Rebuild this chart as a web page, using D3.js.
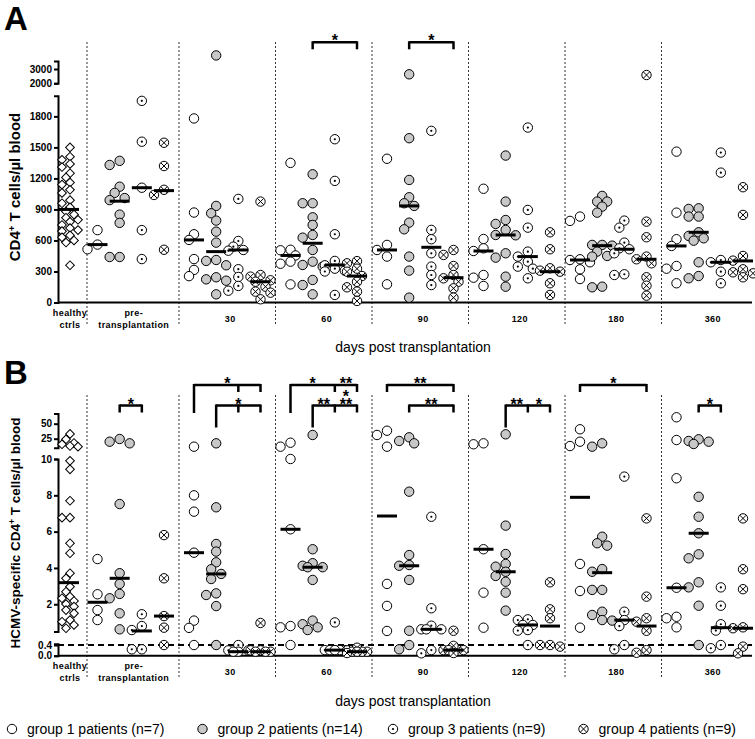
<!DOCTYPE html>
<html>
<head>
<meta charset="utf-8">
<script src="https://cdn.jsdelivr.net/npm/d3@7"></script>
<style>
  body { margin: 0; background: #fff; }
  svg text { font-family: "Liberation Sans", Arial, sans-serif; fill: #000; }
</style>
</head>
<body>
<div id="chart"></div>
<script>
// ---- data ----
const days = ["pre-transplantation", "30", "60", "90", "120", "180", "360"];
const groupNames = ["group 1 patients (n=7)", "group 2 patients (n=14)", "group 3 patients (n=9)", "group 4 patients (n=9)"];

// panel A : CD4+ T cells/µl blood, one array per time point
const cd4Healthy = [1500,1410,1380,1340,1310,1250,1210,1160,1140,1090,1060,990,960,920,880,850,820,800,780,750,720,700,690,650,630,600,580,360];
const cd4HealthyMedian = 900;
const cd4G1 = [[700,560,515],[1780,870,660,605,420,315,255],[1350,510,505,455,395,375,175],[1390,557,508,444,176],[1100,614,524,498,266,240,160],[831,789,418,411,389,321,227],[1459,869,612,547,353,327,186]];
const cd4G2 = [[1370,1330,1120,1060,1010,990,850,770,440,440],[3950,934,863,792,685,579,411,402,360,244,224,211,79],[1240,960,960,824,750,653,627,508,395,363,347,218,169,79],[2629,1589,1185,1018,960,934,772,708,444,308,47],[1421,976,798,760,702,653,650,476,434,250,153],[1031,976,976,927,869,557,557,550,492,450,444,153,147],[911,905,831,831,679,644,621,598,389,256,234]];
const cd4G3 = [[1950,1555,1110,700,420],[1002,595,540,508,501,322,247,160,114],[1579,1176,660,402,360,327,308,300,73],[1660,702,612,476,347,266,169],[1692,895,724,492,444,395,347,327,234],[792,724,579,524,515,476,266,273],[1450,1256,411,389,298,186]];
const cd4G4 = [[1545,1320,1090,1040,510],[976,266,250,215,201,153,105,95,31],[400,379,327,298,256,200,147,105,15],[508,460,353,266,234,201,137,47],[679,515,331,308,298,186,73],[2580,782,631,444,418,379,244,163,66],[1115,847,450,405,321,292,282,244]];
const cd4Medians = [
  [560,605,455,508,498,411,547],
  [980,492,573,934,653,550,679],
  [1110,508,363,534,444,515,389],
  [1082,201,256,240,298,418,402]
];

// panel B : HCMV-specific CD4+ T cells/µl blood
const cmvHealthy = [33,24,17.8,15.7,12.8,11.7,9.9,9.43,7.7,6.77,6.77,5.36,4.81,3.71,3.43,2.97,2.69,2.42,2.33,2.18,2.01,1.87,1.68,1.5,1.13,1.04,0.86,0.68];
const cmvHealthyMedian = 3.19;
const cmvG1 = [[4.49,2.55,1.68,1.13],[11.7,8.0,7.1,4.84,1.1,0.7,0.4],[18.3,11.7,10.0,6.13,0.8,0.73,0.4],[38.3,31.2,11.7,3.12,1.91,0.53],[17.3,15.7,5.03,2.64,0.71],[40.7,20,12.8,4.22,2.73,0.71],[60.7,22.8,8.94,2.91,1.31,1.23,0.73]];
const cmvG2 = [[24.5,20,17.3,7.52,3.71,3.12,2.57,2.33,1.5,0.62],[17.3,7.34,5.32,4.9,4.31,3.93,3.67,3.39,2.6,2.51,1.9,0.4],[31.2,5.03,4.26,4.12,4.04,4.04,3.34,1.1,0.9,0.73,0.58],[27.3,21.2,17.3,8.2,4.71,4.16,4.12,3.34,0.54,0.4,0.24],[32.3,6.33,4.77,4.22,4.07,3.79,3.56,3.24,2.64,1.65],[17.3,11.7,5.72,5.36,5.23,3.94,3.79,2.79,2.79,1.59,1.41,1.13,1.1],[24,21.2,20,16.2,7.92,6.82,5.91,4.75,4.53,3.21,2.93,1.92,0.4]];
const cmvG3 = [[1.45,0.8,0.58,0.24,0.24],[0.4,0.2,0.2,0.15,0.15],[1.0,0.21,0.21,0.21,0.21,0.21,0.21],[6.82,1.78,0.82,0.62,0.62,0.62,0.21,0.09],[1.17,1.13,0.86,0.86,0.58,0.55,0.4],[9.03,1.59,1.13,0.8,0.4,0.24],[2.93,1.92,0.9,0.55,0.4,0.28]];
const cmvG4 = [[5.81,3.43,1.35,0.71,0.4],[0.97,0.2,0.2,0.15,0.15,0.15],[0.3,0.2,0.15,0.15,0.15,0.15,0.1],[0.54,0.37,0.21,0.21,0.21,0.1],[3.21,1.72,1.23,0.4,0.34,0.4],[6.73,2.42,1.23,1.04,0.54,0.21,0.11],[6.73,3.93,2.83,0.73,0.68,0.34,0.09]];
const cmvMedians = [
  [2.11,4.84,6.13,6.86,5.03,7.89,2.91],
  [3.43,3.67,4.04,4.12,3.79,3.74,5.91],
  [0.53,0.15,0.21,0.62,0.86,1.13,0.71],
  [1.35,0.15,0.15,0.21,0.8,0.8,0.68]
];

// significance brackets: groups are 0..3, row 0 = upper, row 1 = lower
const sigA = [
  {day: "60", row: 0, groups: [1, 3], long: false, labels: [{from: 1, to: 3, text: "*"}]},
  {day: "90", row: 0, groups: [1, 3], long: false, labels: [{from: 1, to: 3, text: "*"}]}
];
const sigB = [
  {day: "pre-transplantation", row: 1, groups: [1, 2], long: false, labels: [{from: 1, to: 2, text: "*"}]},
  {day: "30", row: 0, groups: [0, 2, 3], long: true, labels: [{from: 0, to: 3, text: "*"}]},
  {day: "30", row: 1, groups: [1, 2, 3], long: true, labels: [{from: 1, to: 3, text: "*"}]},
  {day: "60", row: 0, groups: [0, 2, 3], long: true, labels: [{from: 0, to: 2, text: "*"}, {from: 2, to: 3, text: "**"}]},
  {day: "60", row: 1, groups: [1, 2, 3], long: true, labels: [{from: 1, to: 2, text: "**"}, {from: 2, to: 3, text: "**"}, {from: 2, to: 3, text: "*", lift: 8}]},
  {day: "90", row: 0, groups: [0, 3], long: false, labels: [{from: 0, to: 3, text: "**"}]},
  {day: "90", row: 1, groups: [1, 3], long: false, labels: [{from: 1, to: 3, text: "**"}]},
  {day: "120", row: 1, groups: [1, 2, 3], long: true, labels: [{from: 1, to: 2, text: "**"}, {from: 2, to: 3, text: "*"}]},
  {day: "180", row: 0, groups: [0, 3], long: false, labels: [{from: 0, to: 3, text: "*"}]},
  {day: "360", row: 1, groups: [1, 2], long: false, labels: [{from: 1, to: 2, text: "*"}]}
];

// ---- layout ----
const W = 755, H = 739;
const axisX = 58, rightX = 752, healthyX = 69, healthySep = 87;
const R = 4.7;
const fills = ["#fff", "#c8c8c8", "#fff", "#fff"];

const svg = d3.select("#chart").append("svg").attr("width", W).attr("height", H);

const x = d3.scaleBand().domain(days).range([82.5, 758]);
const xg = d3.scalePoint().domain([0, 1, 2, 3]).range([15, 81.5]);
const gx = (day, g) => x(day) + xg(g);

// piecewise (broken) y axis built from several linear scales
function brokenScale(segs) {
  const scales = segs.map(s => d3.scaleLinear().domain(s.domain).range(s.range));
  const f = v => {
    for (let i = 0; i < segs.length; i++) {
      if (v <= segs[i].upTo) return scales[i](v);
    }
    return scales[scales.length - 1](v);
  };
  f.scales = scales;
  return f;
}

// simple swarm: spread points sideways so they do not pile up
function swarm(values, y, step, minDist, maxOff) {
  const pts = values.map(v => ({v: v, y: y(v)})).sort((a, b) => a.y - b.y);
  const placed = [];
  pts.forEach(p => {
    p.dx = 0;
    let best = null, bestScore = Infinity;
    for (let k = 0; k < 30; k++) {
      const off = k === 0 ? 0 : (k % 2 ? -1 : 1) * Math.ceil(k / 2) * step;
      if (Math.abs(off) > maxOff) break;
      const dmin = d3.min(placed, q => Math.hypot(q.dx - off, q.y - p.y));
      if (dmin === undefined || dmin >= minDist) { best = off; break; }
      const score = -dmin;
      if (score < bestScore) { bestScore = score; p.dx = off; }
    }
    if (best !== null) p.dx = best;
    placed.push(p);
  });
  return pts;
}

function drawMarker(g, type, cx, cy) {
  if (type === "diamond") {
    g.append("path")
      .attr("d", d3.symbol().type(d3.symbolSquare).size(38)())
      .attr("transform", `translate(${cx},${cy}) rotate(45)`)
      .attr("fill", "#fff").attr("stroke", "#000").attr("stroke-width", 1);
    return;
  }
  g.append("circle").attr("cx", cx).attr("cy", cy).attr("r", R)
    .attr("fill", fills[type]).attr("stroke", "#000").attr("stroke-width", 1);
  if (type === 2) {
    g.append("circle").attr("cx", cx).attr("cy", cy).attr("r", 1.1).attr("fill", "#000");
  } else if (type === 3) {
    const a = R * 0.68;
    g.append("path")
      .attr("d", `M${cx - a},${cy - a}L${cx + a},${cy + a}M${cx - a},${cy + a}L${cx + a},${cy - a}`)
      .attr("stroke", "#000").attr("stroke-width", 1);
  }
}

function drawPanel(p) {
  const g = svg.append("g");

  // separators
  const seps = [healthySep].concat(days.slice(1).map(d => x(d)));
  g.selectAll(".sep").data(seps).enter().append("line")
    .attr("x1", d => d).attr("x2", d => d)
    .attr("y1", p.sepTop).attr("y2", p.sepBottom)
    .attr("stroke", "#333").attr("stroke-width", 1).attr("stroke-dasharray", "2,2");

  // detection limit
  if (p.limit !== undefined) {
    g.append("line").attr("x1", axisX).attr("x2", rightX)
      .attr("y1", p.y(p.limit)).attr("y2", p.y(p.limit))
      .attr("stroke", "#000").attr("stroke-width", 2).attr("stroke-dasharray", "6,4");
  }

  // x baseline
  g.append("line").attr("x1", axisX).attr("x2", rightX)
    .attr("y1", p.y(0)).attr("y2", p.y(0))
    .attr("stroke", "#000").attr("stroke-width", 2);

  // y axis segments
  p.y.scales.forEach((s, i) => {
    const ax = g.append("g").attr("transform", `translate(${axisX},0)`)
      .call(d3.axisLeft(s).tickValues(p.ticks[i]).tickSize(4).tickSizeOuter(4).tickPadding(2).tickFormat(p.fmt));
    ax.select(".domain").attr("stroke-width", 2);
    ax.selectAll(".tick line").attr("stroke-width", 2);
    ax.selectAll("text").attr("font-size", 10).attr("font-weight", "bold")
      .attr("font-family", "Liberation Sans, Arial, sans-serif");
  });

  // healthy controls
  const hp = swarm(p.healthy, p.y, 4, 5.5, 9);
  hp.forEach(d => drawMarker(g, "diamond", healthyX + 1 + d.dx, d.y));
  g.append("line").attr("x1", healthyX - 11).attr("x2", healthyX + 10)
    .attr("y1", p.y(p.healthyMedian)).attr("y2", p.y(p.healthyMedian))
    .attr("stroke", "#000").attr("stroke-width", 3);

  // patient groups
  p.groups.forEach((series, gi) => {
    days.forEach((day, di) => {
      const cx = gx(day, gi);
      swarm(series[di], p.y, 5, 7.5, 10).forEach(d => drawMarker(g, gi, cx + d.dx, d.y));
    });
  });
  p.groups.forEach((series, gi) => {
    days.forEach((day, di) => {
      const cx = gx(day, gi), my = p.y(p.medians[gi][di]);
      g.append("line").attr("x1", cx - 10).attr("x2", cx + 10)
        .attr("y1", my).attr("y2", my).attr("stroke", "#000").attr("stroke-width", 3);
    });
  });

  // significance brackets
  p.sig.forEach(s => {
    const top = p.rowTop[s.row];
    const xs = s.groups.map(k => gx(s.day, k));
    g.append("line").attr("x1", xs[0]).attr("x2", xs[xs.length - 1])
      .attr("y1", top).attr("y2", top).attr("stroke", "#000").attr("stroke-width", 2.5);
    xs.forEach((xx, k) => {
      const len = (k === 0 && s.long) ? p.longLeg[s.row] : 7;
      g.append("line").attr("x1", xx).attr("x2", xx)
        .attr("y1", top - 1).attr("y2", top + len).attr("stroke", "#000").attr("stroke-width", 2.5);
    });
    s.labels.forEach(l => {
      g.append("text").attr("x", (gx(s.day, l.from) + gx(s.day, l.to)) / 2).attr("y", top + 4 - (l.lift || 0))
        .attr("text-anchor", "middle").attr("font-size", 16).attr("font-weight", "bold")
        .text(l.text);
    });
  });

  // category labels
  const lab = g.append("g").attr("font-size", 9).attr("font-weight", "bold");
  const twoLine = (cx, a, b) => {
    lab.append("text").attr("x", cx).attr("y", p.labelY - 3).attr("text-anchor", "middle")
      .attr("letter-spacing", 0.4).text(a);
    lab.append("text").attr("x", cx).attr("y", p.labelY + 9).attr("text-anchor", "middle")
      .attr("letter-spacing", 0.4).text(b);
  };
  twoLine(healthyX + 1, "healthy", "ctrls");
  twoLine(x(days[0]) + x.bandwidth() / 2 + 3, "pre-", "transplantation");
  days.slice(1).forEach(d => {
    lab.append("text").attr("x", x(d) + x.bandwidth() / 2 + 3).attr("y", p.labelY + 3)
      .attr("text-anchor", "middle").attr("letter-spacing", 0.4).text(d);
  });

  g.append("text").attr("x", 413).attr("y", p.xTitleY).attr("text-anchor", "middle")
    .attr("font-size", 14).text("days post transplantation");

  // y title
  const yt = g.append("text").attr("transform", `translate(20,${p.yTitleMid}) rotate(-90)`)
    .attr("text-anchor", "middle").attr("font-size", p.yTitleSize).attr("font-weight", "bold");
  yt.append("tspan").text(p.yTitle + "CD4");
  yt.append("tspan").attr("dy", -5).attr("font-size", p.yTitleSize * 0.65).text("+");
  yt.append("tspan").attr("dy", 5).text(" T cells/µl blood");

  // panel letter
  g.append("text").attr("x", 4).attr("y", p.letterY).attr("font-size", 33).attr("font-weight", "bold").text(p.letter);
}

const yA = brokenScale([
  {domain: [0, 2000], range: [302.5, 95.7], upTo: 2000},
  {domain: [2000, 3560], range: [83.3, 61], upTo: Infinity}
]);
const yB = brokenScale([
  {domain: [0, 0.45], range: [655.7, 643.7], upTo: 0.42},
  {domain: [0.5, 10], range: [631.5, 459], upTo: 10},
  {domain: [10, 67], range: [447.7, 413.5], upTo: Infinity}
]);

drawPanel({
  y: yA, ticks: [[0, 300, 600, 900, 1200, 1500, 1800], [2000, 3000]], fmt: d3.format("d"),
  healthy: cd4Healthy, healthyMedian: cd4HealthyMedian,
  groups: [cd4G1, cd4G2, cd4G3, cd4G4], medians: cd4Medians,
  sig: sigA, rowTop: [42.3, 42.3], longLeg: [7, 7],
  sepTop: 42, sepBottom: 324, labelY: 319, xTitleY: 352,
  yTitle: "", yTitleMid: 187, yTitleSize: 15, letter: "A", letterY: 30
});

drawPanel({
  y: yB, ticks: [[0, 0.4], [2, 4, 6, 8, 10], [25, 50]], fmt: d => d < 1 ? d3.format(".1f")(d) : d3.format("d")(d),
  limit: 0.4,
  healthy: cmvHealthy, healthyMedian: cmvHealthyMedian,
  groups: [cmvG1, cmvG2, cmvG3, cmvG4], medians: cmvMedians,
  sig: sigB, rowTop: [385, 405.5], longLeg: [28, 22],
  sepTop: 395, sepBottom: 677, labelY: 672, xTitleY: 706,
  yTitle: "HCMV-specific ", yTitleMid: 533, yTitleSize: 13.5, letter: "B", letterY: 384
});

// legend
const leg = svg.append("g");
groupNames.forEach((name, i) => {
  const lx = 12 + i * 190.5;
  drawMarker(leg, i, lx, 729);
  leg.append("text").attr("x", lx + 15).attr("y", 734).attr("font-size", 14).text(name);
});
</script>
</body>
</html>
